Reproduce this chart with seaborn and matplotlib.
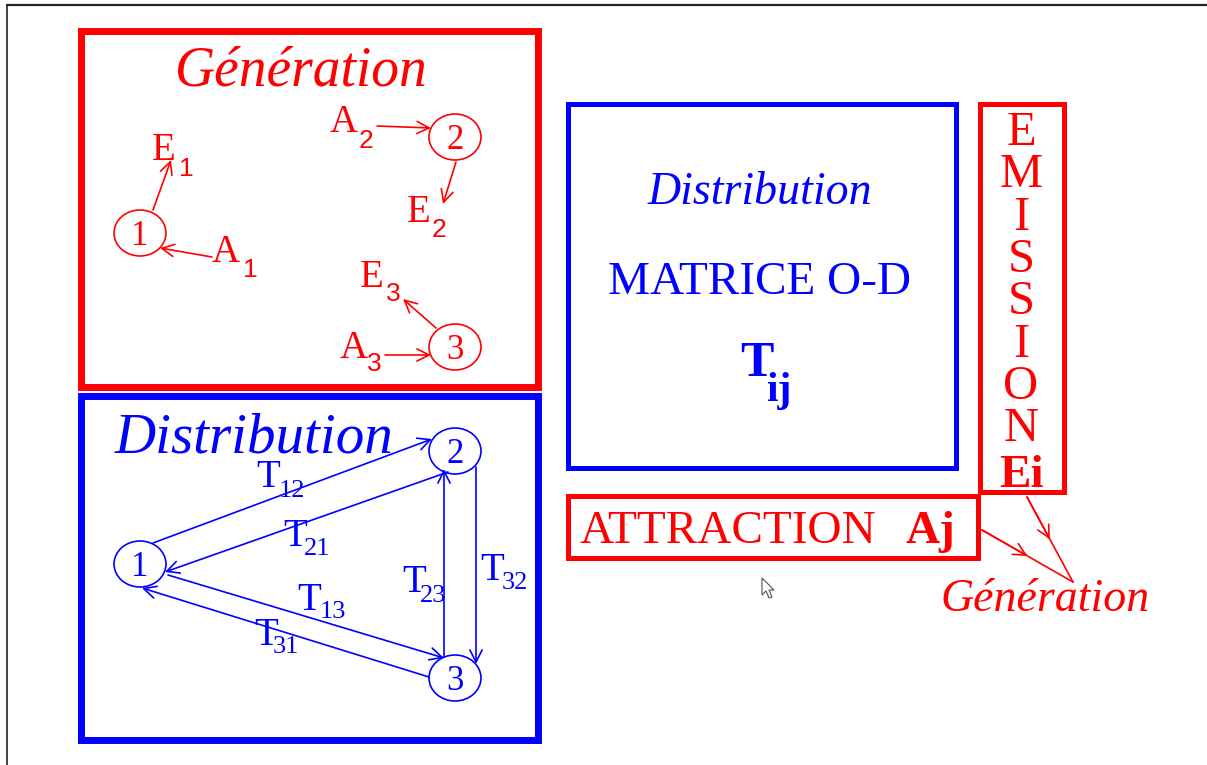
import matplotlib.pyplot as plt
from matplotlib.patches import Rectangle, Ellipse, Polygon
import seaborn as sns

sns.set_style("white")
plt.rcParams['font.family'] = ['Liberation Serif', 'DejaVu Serif']

RED = '#ff0000'
BLUE = '#0000ff'

# --- content ---
node_names = ['1', '2', '3']
gen_letters = ['E', 'A', 'A', 'E', 'E', 'A']
gen_subs = ['1', '1', '2', '2', '3', '3']
trip_subs = ['12', '21', '13', '31', '23', '32']
emission_letters = ['E', 'M', 'I', 'S', 'S', 'I', 'O', 'N']

# --- layout (pixel coordinates, y downwards) ---
gen_nodes = [(140, 233), (455, 137), (455, 347)]
dist_nodes = [(140, 564), (455, 451), (455, 678)]
gen_label_pos = [(152, 160, 179, 176), (212, 262, 243, 277), (330, 132, 359, 148),
                 (407, 222, 432, 237), (360, 287, 386, 301), (340, 358, 367, 371)]
gen_arrows = [((153, 210), (171, 160)), ((212, 257), (160, 248)), ((377, 126), (431, 128)),
              ((456, 162), (443, 204)), ((436, 328), (403, 299)), ((385, 355), (431, 355))]
trip_label_pos = [(256, 487, 279, 497), (283, 546, 304, 555), (297, 610, 320, 618),
                  (254, 645, 273, 653), (402, 592, 420, 602), (480, 580, 502, 589)]
trip_arrows = [((153, 543), (432, 439)), ((448, 472), (165, 572)), ((168, 575), (444, 658)),
               ((429, 677), (142, 588)), ((444, 657), (444, 469)), ((476, 467), (476, 664))]

fig = plt.figure(figsize=(12.07, 7.65), dpi=100)
ax = fig.add_axes([0, 0, 1, 1])
ax.set_xlim(0, 1207)
ax.set_ylim(765, 0)
ax.axis('off')

# slide frame
ax.plot([7, 1207], [5, 5], color='#222222', lw=1.6)
ax.plot([7, 7], [5, 765], color='#222222', lw=1.2)


def box(x0, y0, x1, y1, color, lw):
    ax.add_patch(Rectangle((x0, y0), x1 - x0, y1 - y0, fill=False, edgecolor=color,
                           lw=lw, joinstyle='miter'))


def node(xy, name, color):
    ax.add_patch(Ellipse(xy, 52, 46, fill=False, edgecolor=color, lw=1.2))
    ax.text(xy[0], xy[1] + 12, name, color=color, fontsize=25, ha='center', va='baseline')


def arrow(p0, p1, color):
    ax.annotate('', xy=p1, xytext=p0,
                arrowprops=dict(arrowstyle='->', color=color, lw=1.2, mutation_scale=22,
                                shrinkA=0, shrinkB=0))


# Generation box
box(80.5, 30.5, 537.5, 386.5, RED, 5)
ax.text(301, 85, 'Génération', color=RED, fontsize=40, style='italic', ha='center', va='baseline')
for xy, name in zip(gen_nodes, node_names):
    node(xy, name, RED)
for (lx, ly, sx, sy), let, sub in zip(gen_label_pos, gen_letters, gen_subs):
    ax.text(lx, ly, let, color=RED, fontsize=28, ha='left', va='baseline')
    ax.text(sx, sy, sub, color=RED, fontsize=19, ha='left', va='baseline', family='Liberation Sans')
for p0, p1 in gen_arrows:
    arrow(p0, p1, RED)

# Distribution box
box(80.5, 395.5, 537.5, 739.5, BLUE, 5)
ax.text(115, 452, 'Distribution', color=BLUE, fontsize=41, style='italic', ha='left', va='baseline')
for xy, name in zip(dist_nodes, node_names):
    node(xy, name, BLUE)
for p0, p1 in trip_arrows:
    arrow(p0, p1, BLUE)
for (lx, ly, sx, sy), sub in zip(trip_label_pos, trip_subs):
    ax.text(lx, ly, 'T', color=BLUE, fontsize=28, ha='left', va='baseline')
    ax.text(sx, sy, sub, color=BLUE, fontsize=19, ha='left', va='baseline')

# O-D matrix box
box(567.5, 103.5, 956, 468, BLUE, 3.6)
ax.text(760, 204, 'Distribution', color=BLUE, fontsize=33, style='italic', ha='center', va='baseline')
ax.text(760, 294, 'MATRICE O-D', color=BLUE, fontsize=34, ha='center', va='baseline')
ax.text(740, 376, 'T', color=BLUE, fontsize=36, weight='bold', ha='left', va='baseline')
ax.text(766, 401, 'ij', color=BLUE, fontsize=30, weight='bold', ha='left', va='baseline')

# EMISSION box
box(980, 104, 1064, 492, RED, 3.6)
for k, let in enumerate(emission_letters):
    ax.text(1021, 145 + 42.3 * k, let, color=RED, fontsize=35, ha='center', va='baseline')
ax.text(1021, 487, 'Ei', color=RED, fontsize=34, weight='bold', ha='center', va='baseline')

# ATTRACTION box
box(567.5, 495.5, 978, 557.5, RED, 3.6)
ax.text(580, 543, 'ATTRACTION', color=RED, fontsize=34, ha='left', va='baseline')
ax.text(905, 543, 'Aj', color=RED, fontsize=34, weight='bold', ha='left', va='baseline')

# Generation pointers
meet = (1073, 582)
for start in [(982, 530), (1027, 497)]:
    mid = ((start[0] + meet[0]) / 2, (start[1] + meet[1]) / 2)
    ax.plot([start[0], meet[0]], [start[1], meet[1]], color=RED, lw=1.2)
    arrow(start, mid, RED)
ax.text(1045, 611, 'Génération', color=RED, fontsize=33, style='italic', ha='center', va='baseline')

# mouse cursor
ax.add_patch(Polygon([(762, 578), (762, 595), (766, 591), (769, 598), (772, 597),
                      (769, 590), (774, 590)], closed=True, facecolor='white',
                     edgecolor='#555555', lw=0.8))

fig.savefig('out.png', dpi=100)
